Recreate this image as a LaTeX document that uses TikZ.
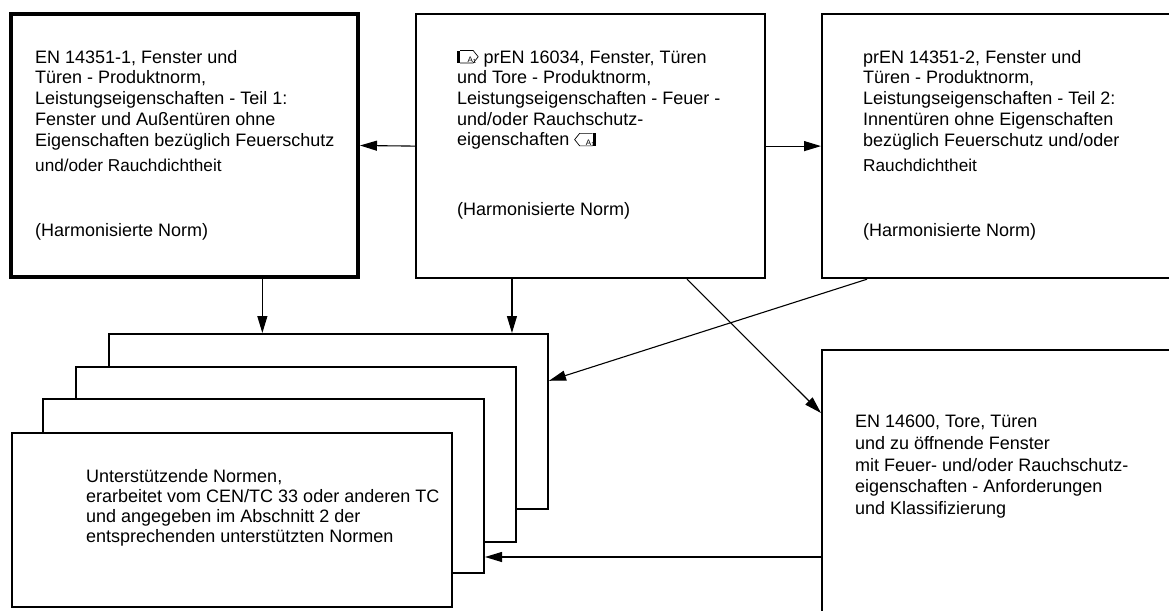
\documentclass[tikz,border=0pt]{standalone}
\usepackage{fontspec}
\setmainfont{Liberation Sans}
\usepackage{tikz}
\usetikzlibrary{arrows.meta,calc}

% amendment markers
\newcommand{\amdbeg}{\tikz[baseline=0pt,x=1pt,y=1pt,line width=0.7pt]{\fill (0,0) rectangle (3,12.5); \draw (3,0) -- (16,0) -- (21,6.25) -- (16,12.5) -- (3,12.5); \node[inner sep=0pt,font=\fontsize{8}{8}\selectfont] at (10,6.5) {A\textsubscript{1}};}}
\newcommand{\amdend}{\tikz[baseline=0pt,x=1pt,y=1pt,line width=0.7pt]{\fill (18,0) rectangle (21,12.5); \draw (18,0) -- (5,0) -- (0,6.25) -- (5,12.5) -- (18,12.5); \node[inner sep=0pt,font=\fontsize{8}{8}\selectfont] at (11,6.5) {A\textsubscript{1}};}}

\begin{document}
\begin{tikzpicture}[x=1pt,y=-1pt,
		normbox/.style={draw,line width=2.2pt,inner sep=0pt,anchor=north west},
		stackbox/.style={draw,fill=white,line width=2pt,inner sep=0pt,anchor=north west,minimum width=440pt,minimum height=175pt},
		txt/.style={font=\fontsize{18}{20.7}\selectfont,align=left,inner sep=0pt,anchor=north west},
		note/.style={font=\fontsize{18}{20.7}\selectfont,inner sep=0pt,anchor=base west},
		arr/.style={-{Triangle[length=17pt,width=10pt]},line width=1.1pt}]
	\useasboundingbox (0,0) rectangle (1169,610);
	\clip (0,0) rectangle (1169,610);
	% the product standards
	\node[normbox,line width=4pt,minimum width=347pt,minimum height=263pt] (lb) at (9,12) {};
	\node[normbox,minimum width=349pt,minimum height=264pt] (mb) at (415,13) {};
	\node[normbox,minimum width=380pt,minimum height=264pt] (rb) at (821,13) {};
	\node[normbox,minimum width=380pt,minimum height=300pt] (eb) at (821,349) {};
	\node[txt] (lbtext) at ([xshift=26pt,yshift=-38pt]lb.north west) {EN 14351-1, Fenster und\\ Türen - Produktnorm,\\ Leistungseigenschaften - Teil 1:\\ Fenster und Außentüren ohne\\ Eigenschaften bezüglich Feuerschutz\\[5pt] {\fontsize{17.2}{20}\selectfont und/oder Rauchdichtheit}};
	\node[note] (lbnote) at ([xshift=26pt,yshift=-224.6pt]lb.north west) {(Harmonisierte Norm)};
	\node[txt] (mbtext) at ([xshift=42pt,yshift=-37pt]mb.north west) {\amdbeg{} prEN 16034, Fenster, Türen\\ und Tore - Produktnorm,\\ Leistungseigenschaften - Feuer -\\ und/oder Rauchschutz-\\ eigenschaften \amdend};
	\node[note] (mbnote) at ([xshift=42pt,yshift=-202.6pt]mb.north west) {(Harmonisierte Norm)};
	\node[txt] (rbtext) at ([xshift=42pt,yshift=-37pt]rb.north west) {prEN 14351-2, Fenster und\\ Türen - Produktnorm,\\ Leistungseigenschaften - Teil 2:\\ Innentüren ohne Eigenschaften\\ bezüglich Feuerschutz und/oder\\[5pt] {\fontsize{17.2}{20}\selectfont Rauchdichtheit}};
	\node[note] (rbnote) at ([xshift=42pt,yshift=-223.6pt]rb.north west) {(Harmonisierte Norm)};
	\node[txt,font=\fontsize{18}{21.7}\selectfont] (ebtext) at ([xshift=34pt,yshift=-66pt]eb.north west) {EN 14600, Tore, Türen\\ und zu öffnende Fenster\\ mit Feuer- und/oder Rauchschutz-\\ eigenschaften - Anforderungen\\ und Klassifizierung};
	% the stack of supporting standards
	\node[stackbox,minimum width=439pt] (s1) at (108,333) {};
	\node[stackbox] (s2) at (75,366) {};
	\node[stackbox,minimum width=441pt,minimum height=174pt] (s3) at (42,398) {};
	\node[stackbox,minimum height=174pt] (s4) at (11,432) {};
	\node[txt,font=\fontsize{18}{20}\selectfont] (s4text) at ([xshift=75pt,yshift=-37pt]s4.north west) {Unterstützende Normen,\\ erarbeitet vom CEN/TC 33 oder anderen TC\\ und angegeben im Abschnitt 2 der\\ entsprechenden unterstützten Normen};
	% connectors
	\coordinate (t1) at ($(s1.north west)!0.35!(s1.north east)$);
	\coordinate (t2) at ($(s1.north west)!0.916!(s1.north east)$);
	\coordinate (s1in) at ($(s1.north east)!0.27!(s1.south east)$);
	\coordinate (s3in) at ([yshift=-159pt]s3.north east);
	\draw[arr] (mb.west) -- (lb.east);
	\draw[arr] (mb.east) -- (rb.west);
	\draw[arr] (lb.south -| t1) -- (t1);
	\draw[arr] (mb.south -| t2) -- (t2);
	\draw[arr] ([xshift=46pt]rb.south west) -- (s1in);
	\draw[arr] ([xshift=272pt]mb.south west) -- ([yshift=-64pt]eb.north west);
	\draw[arr] (s3in -| eb.west) -- (s3in);
\end{tikzpicture}
\end{document}
